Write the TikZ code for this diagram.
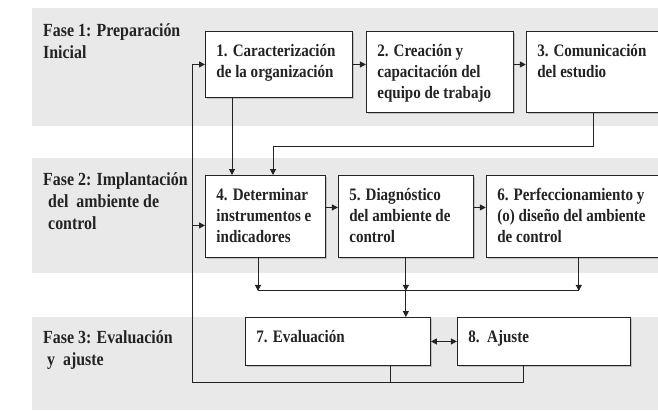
\documentclass[tikz,border=0pt]{standalone}
\usepackage{fontspec}
\setmainfont{Liberation Serif}[FakeStretch=0.86]
\usetikzlibrary{arrows.meta, positioning, shadows}
\definecolor{bandgray}{RGB}{233,233,233}
\definecolor{inkgray}{RGB}{35,35,35}
%% text of a box: width, height, lines
\newcommand{\btxt}[3]{\parbox[t][\dimexpr#2pt-20pt\relax][t]{\dimexpr#1pt-22pt\relax}{\raggedright\strut #3}}
\tikzset{
  %% Step box
  stepbox/.style={
    rectangle, draw=inkgray, fill=white, line width=0.9pt,
    anchor=north west, inner xsep=11pt, inner ysep=10pt,
    font=\fontsize{17.5}{21}\selectfont\bfseries, text=inkgray,
    drop shadow={shadow xshift=1.5pt, shadow yshift=-1.5pt, fill=black!40}
  },
  %% Phase title
  phase/.style={
    anchor=north west, inner sep=0pt, align=left,
    font=\fontsize{18.5}{22}\selectfont\bfseries, text=inkgray
  },
  %% Arrows
  arr/.style={-{Triangle[length=6pt,width=6pt]},
              draw=inkgray, line width=1pt},
  darr/.style={{Triangle[length=6pt,width=6pt]}-{Triangle[length=6pt,width=6pt]},
               draw=inkgray, line width=1pt},
  link/.style={draw=inkgray, line width=1pt},
}

\begin{document}
\begin{tikzpicture}[x=1pt, y=-1pt]
  \useasboundingbox (0,0) rectangle (658,410);

  %% Phase bands
  \fill[bandgray] (32,8) rectangle (658,126);
  \fill[bandgray] (32,158) rectangle (658,273);
  \fill[bandgray] (32,317) rectangle (658,410);

  \node[phase] (f1) at (43,23) {Fase 1: Preparación\\Inicial};
  \node[phase] (f2) at (43,172)
       {Fase 2: Implantación\\\hspace*{5pt}del\ \ ambiente de\\\hspace*{5pt}control};
  \node[phase] (f3) at (43,330) {Fase 3: Evaluación\\\hspace*{4pt}y\ \ ajuste};

  %% Phase 1
  \node[stepbox] (b1) at (205,31)
       {\btxt{147}{66}{1. Caracterización\\de la organización}};
  \node[stepbox, right=13pt of b1.north east, anchor=north west] (b2)
       {\btxt{147}{81}{2. Creación y\\capacitación del\\equipo de trabajo}};
  \node[stepbox, right=12pt of b2.north east, anchor=north west] (b3)
       {\btxt{132}{81}{3. Comunicación\\del estudio}};

  %% Phase 2
  \node[stepbox] (b4) at (205,175)
       {\btxt{120}{82}{4. Determinar\\instrumentos e\\indicadores}};
  \node[stepbox, right=12pt of b4.north east, anchor=north west] (b5)
       {\btxt{135}{82}{5. Diagnóstico\\del ambiente de\\control}};
  \node[stepbox, right=12pt of b5.north east, anchor=north west] (b6)
       {\btxt{173}{82}{6. Perfeccionamiento y\\(o) diseño del ambiente\\de control}};

  %% Phase 3
  \node[stepbox] (b7) at (245,317) {\btxt{185}{48}{7. Evaluación}};
  \node[stepbox, right=26pt of b7.north east, anchor=north west] (b8)
       {\btxt{173}{48}{8.\ \ Ajuste}};

  %% Arrows
  \draw[arr] (b1.east) -- (b1.east -| b2.west);
  \draw[arr] (b2.east |- b1.east) -- (b3.west |- b1.east);
  \draw[arr] ([xshift=27pt]b1.south west) -- ([xshift=27pt]b4.north west);
  \draw[arr] ([xshift=-65pt]b3.south east) -- ++(0,34)
             -| ([xshift=68pt]b4.north west);

  \draw[arr] ([yshift=9pt]b4.east) -- ([yshift=9pt]b4.east -| b5.west);
  \draw[arr] ([yshift=9pt]b5.east) -- ([yshift=9pt]b5.east -| b6.west);

  \coordinate (mid) at ([yshift=-33pt]b5.south);
  \draw[arr] ([xshift=53pt]b4.south west) -- ([xshift=53pt]b4.south west |- mid);
  \draw[arr] (b5.south) -- (mid);
  \draw[arr] ([xshift=93pt]b6.south west) -- ([xshift=93pt]b6.south west |- mid);
  \draw[link] ([xshift=53pt]b4.south west |- mid) -- ([xshift=93pt]b6.south west |- mid);
  \draw[arr] (mid) -- (mid |- b7.north);

  \draw[darr] (b7.east) -- (b8.west);

  %% Feedback loop
  \coordinate (loop) at (192,382);
  \draw[link] ([xshift=145pt]b7.south west) |- (loop);
  \draw[link] ([xshift=67pt]b8.south west) |- (loop);
  \draw[arr] (loop) |- (b1.west);
  \draw[arr] ([yshift=-9pt]b4.west -| loop) -- ([yshift=-9pt]b4.west);

\end{tikzpicture}
\end{document}
